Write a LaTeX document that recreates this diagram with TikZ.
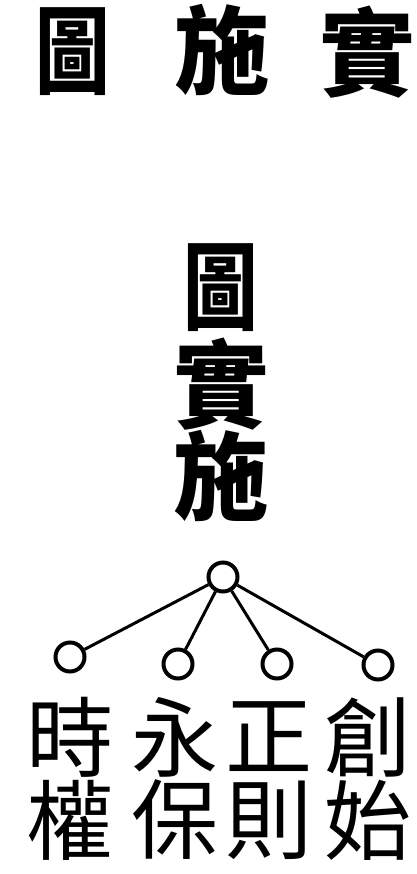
\documentclass[tikz,border=0pt]{standalone}
\usepackage{fontspec}
\newfontfamily\cjk{Noto Sans CJK TC}
\usetikzlibrary{positioning}

\begin{document}
\begin{tikzpicture}[x=0.05cm,y=-0.05cm,on grid,
    dot/.style={circle,draw,line width=0.2cm,minimum size=1.45cm,inner sep=0pt},
    big/.style={font=\cjk\bfseries\fontsize{136}{136}\selectfont,inner sep=0pt},
    narrow/.style={big,xscale=0.78},
    word/.style={font=\cjk\fontsize{124}{124}\selectfont,inner sep=0pt}]
  \useasboundingbox (0,0) rectangle (416,874);

  % title row
  \node[narrow] (t1) at (73,52)  {圖};
  \node[big] (t2) at (222,50) {施};
  \node[big] (t3) at (367,52) {實};

  % vertical title
  \node[narrow] (v1) at (221,288)     {圖};
  \node[big] (v2) [below=4.8cm of v1] {實};
  \node[big] (v3) [below=4.6cm of v2] {施};

  % tree
  \node[dot] (top) at (223,577) {};
  \node[dot] (c1)  at (70,657)  {};
  \node[dot] (c2)  at (178,664) {};
  \node[dot] (c3)  at (277,664) {};
  \node[dot] (c4)  at (378,665) {};

  \path[line width=0.15cm] (top) edge (c1)
                                 edge (c2)
                                 edge (c3)
                                 edge (c4);

  % words
  \node[word] (a1) at (70,737)  {時};
  \node[word] (b1) [below=4.15cm of a1] {權};
  \node[word] (a2) at (175,737) {永};
  \node[word] (b2) [below=4.15cm of a2] {保};
  \node[word] (a3) at (269,737) {正};
  \node[word] (b3) [below=4.15cm of a3] {則};
  \node[word] (a4) at (368,737) {創};
  \node[word] (b4) [below=4.15cm of a4] {始};
\end{tikzpicture}
\end{document}
